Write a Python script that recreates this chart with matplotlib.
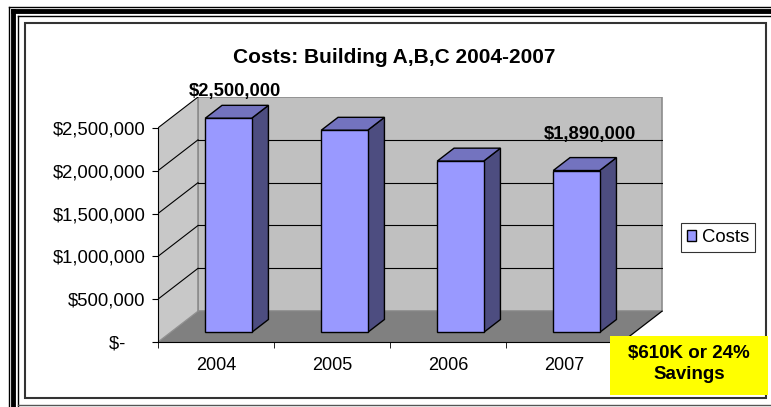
import matplotlib
matplotlib.use("Agg")
import matplotlib.pyplot as plt
from matplotlib.patches import Polygon, Rectangle
from matplotlib.lines import Line2D

plt.rcParams['font.family'] = ['Liberation Sans', 'DejaVu Sans']

# data
years = ['2004', '2005', '2006', '2007']
costs = [2500000, 2360000, 2000000, 1890000]
yticks = [0, 500000, 1000000, 1500000, 2000000, 2500000]
ytick_labels = ['$-    ', '$500,000', '$1,000,000', '$1,500,000',
                '$2,000,000', '$2,500,000']
bar_labels = {0: '$2,500,000', 3: '$1,890,000'}
title = 'Costs: Building A,B,C 2004-2007'
note = '$610K or 24%\nSavings'

W, H = 771, 407
fig = plt.figure(figsize=(W / 100, H / 100), dpi=100)


def fx(px):
    return px / W


def fy(py):
    return 1 - py / H


# 3d look: depth offset of the back wall in data units
DX = 0.345
DY = 360000
YMAX = 2500000
f0, f1 = 0.31, 0.73   # front / back depth of the bars
bw = 0.40

ax = fig.add_axes([fx(158), fy(342), fx(663 - 158), (342 - 97) / H])
ax.set_xlim(-0.5, 3.5 + DX + 0.008)
ax.set_ylim(0, YMAX + DY)
ax.patch.set_visible(False)

wall_c = '#C0C0C0'
side_c = '#C8C8C8'
floor_c = '#808080'
# back wall
ax.add_patch(Polygon([(-0.5 + DX, DY), (3.5 + DX, DY), (3.5 + DX, YMAX + DY),
                      (-0.5 + DX, YMAX + DY)], closed=True, fc=wall_c,
                     ec='#8C8C8C', lw=1.2, zorder=1))
# side wall
ax.add_patch(Polygon([(-0.5, 0), (-0.5, YMAX), (-0.5 + DX, YMAX + DY),
                      (-0.5 + DX, DY)], closed=True, fc=side_c,
                     ec='none', zorder=1))
# floor
ax.add_patch(Polygon([(-0.5, 0), (3.5, 0), (3.5 + DX, DY), (-0.5 + DX, DY)],
                     closed=True, fc=floor_c, ec='none', zorder=1))
ax.plot([3.5, 3.5 + DX], [0, DY], color='black', lw=0.9, zorder=2)
ax.plot([-0.5, -0.5 + DX], [0, DY], color='#909090', lw=0.9, zorder=2)
ax.plot([-0.5 + DX, -0.5 + DX], [DY, YMAX + DY], color='#8C8C8C', lw=1.2,
        zorder=2)

# gridlines
for v in yticks[1:]:
    if v < YMAX:
        ax.plot([-0.5 + DX, 3.5 + DX], [v + DY, v + DY], color='black',
                lw=0.8, zorder=2)
    ax.plot([-0.5, -0.5 + DX], [v, v + DY], color='black', lw=0.8, zorder=2)

# bars
xs = [i + f0 * DX for i in range(len(years))]
ax.bar(xs, costs, width=bw, bottom=f0 * DY, color='#9999FF',
       edgecolor='black', linewidth=1.0, zorder=4)
ddx = (f1 - f0) * DX
ddy = (f1 - f0) * DY
for x, c in zip(xs, costs):
    r = x + bw / 2
    l = x - bw / 2
    b = f0 * DY
    t = f0 * DY + c
    ax.add_patch(Polygon([(r, b), (r + ddx, b + ddy), (r + ddx, t + ddy),
                          (r, t)], closed=True, fc='#4D4D80', ec='black',
                         lw=1.0, zorder=3))
    ax.add_patch(Polygon([(l, t), (r, t), (r + ddx, t + ddy),
                          (l + ddx, t + ddy)], closed=True, fc='#7373BF',
                         ec='black', lw=1.0, zorder=3))

# value labels
label_off = {0: (5, 16), 3: (10, 23)}
for i, txt in bar_labels.items():
    ax.annotate(txt, (xs[i], f0 * DY + costs[i]), xytext=label_off[i],
                textcoords='offset points', ha='center', va='baseline',
                fontsize=13.2, fontweight='bold', zorder=6)

# axes
for s in ['top', 'right']:
    ax.spines[s].set_visible(False)
ax.spines['left'].set_bounds(0, YMAX)
ax.spines['bottom'].set_bounds(-0.5, 3.5)
ax.spines['left'].set_zorder(5)
ax.spines['bottom'].set_zorder(5)
ax.set_yticks(yticks)
ax.set_yticklabels(ytick_labels)
ax.set_xticks(range(len(years)))
ax.set_xticklabels(years)
ax.set_xticks([-0.5, 0.5, 1.5, 2.5, 3.5], minor=True)
ax.tick_params(axis='x', which='major', length=0, pad=11, labelsize=13)
ax.tick_params(axis='x', which='minor', length=4, direction='out')
ax.tick_params(axis='y', length=4, direction='out', pad=5, labelsize=13.3)

fig.text(fx(394), fy(63), title, ha='center', va='baseline', fontsize=15,
         fontweight='bold')

# legend
leg = fig.legend([Rectangle((0, 0), 1, 1, fc='#9999FF', ec='black', lw=1)],
                 ['Costs'], loc='center', bbox_to_anchor=(fx(718), fy(237.5)),
                 fontsize=13.3, frameon=True, fancybox=False, handlelength=0.5,
                 handleheight=0.5, handletextpad=0.3, borderpad=0.35,
                 borderaxespad=0)
leg.get_frame().set_edgecolor('black')
leg.get_frame().set_linewidth(0.8)

# savings note
fig.patches.append(Rectangle((fx(610), fy(395)), fx(768 - 610),
                             (395 - 336) / H, transform=fig.transFigure,
                             fc='#FFFF00', ec='none', zorder=5))
fig.text(fx(689), fy(364), note, ha='center', va='center', fontsize=13.5,
         fontweight='bold', linespacing=1.25, zorder=6)

# frames
fig.patches.append(Rectangle((fx(25), fy(398)), fx(766 - 25), (398 - 23) / H,
                             transform=fig.transFigure, fc='none',
                             ec='#333333', lw=1.5, zorder=4))
for (x0, y0, x1, y1, lw, col) in [
        (8.5, 6.5, 8.5, 407, 1.0, 'black'),
        (8.5, 6.5, 771, 6.5, 1.0, 'black'),
        (13, 11, 13, 407, 3.5, 'black'),
        (13, 11, 771, 11, 3.5, 'black'),
        (17.5, 15.5, 17.5, 407, 1.0, 'black'),
        (17.5, 15.5, 771, 15.5, 1.0, 'black'),
        (17.5, 405, 771, 405, 1.0, '#555555')]:
    fig.add_artist(Line2D([fx(x0), fx(x1)], [fy(y0), fy(y1)], lw=lw,
                          color=col, transform=fig.transFigure))

fig.savefig('out.png', dpi=100)
